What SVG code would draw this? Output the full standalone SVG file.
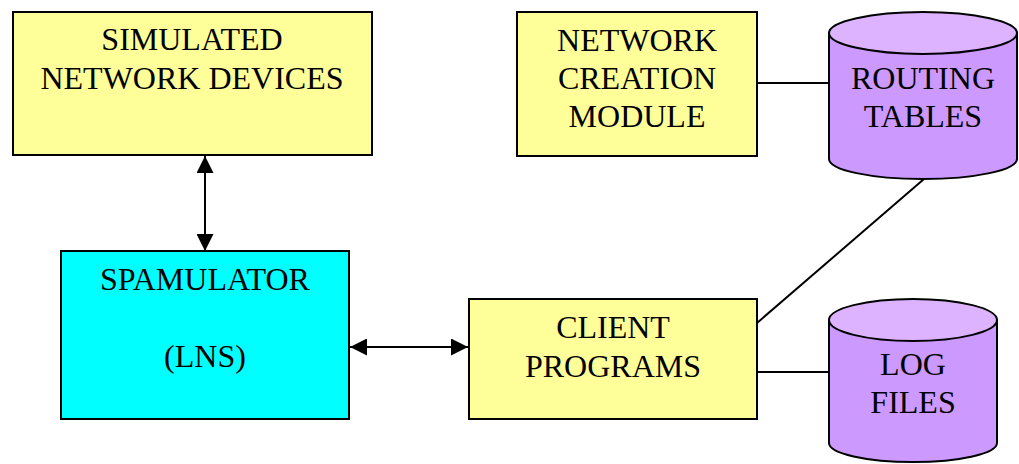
<svg xmlns="http://www.w3.org/2000/svg" width="1019" height="464" viewBox="0 0 1019 464">
<style>
.box{stroke:#000;stroke-width:2}
.y{fill:#FFFF99}
.c{fill:#00FFFF}
.p{fill:#CC99FF;stroke:#000;stroke-width:2}
.pt{fill:#DDB3FF;stroke:#000;stroke-width:2}
text{font-family:"Liberation Serif","Times New Roman",serif;font-size:32px;fill:#000;text-anchor:middle}
.ln{stroke:#000;stroke-width:2;fill:none}
</style>
<defs>
<marker id="ah" viewBox="0 0 16 16" refX="16" refY="8" markerWidth="17" markerHeight="17" markerUnits="userSpaceOnUse" orient="auto-start-reverse">
<path d="M0,0 L16,8 L0,16 Z" fill="#000"/>
</marker>
</defs>
<g id="connectors">
<line class="ln" x1="205" y1="156" x2="205" y2="251" marker-start="url(#ah)" marker-end="url(#ah)"/>
<line class="ln" x1="350" y1="347" x2="468" y2="347" marker-start="url(#ah)" marker-end="url(#ah)"/>
<line class="ln" x1="757" y1="83" x2="829" y2="83"/>
<line class="ln" x1="924" y1="179" x2="757" y2="323"/>
<line class="ln" x1="757" y1="372" x2="829" y2="372"/>
</g>
<g id="simulated-network-devices">
<rect class="box y" x="13" y="12" width="359" height="143"/>
<text x="192" y="50">SIMULATED</text>
<text x="192" y="89">NETWORK DEVICES</text>
</g>
<g id="network-creation-module">
<rect class="box y" x="517" y="12" width="240" height="144"/>
<text x="637" y="51">NETWORK</text>
<text x="637" y="89">CREATION</text>
<text x="637" y="127">MODULE</text>
</g>
<g id="routing-tables">
<path class="p" d="M829,33 L829,159 A94,20 0 0 0 1017,159 L1017,33 Z"/>
<ellipse class="pt" cx="923" cy="33" rx="94" ry="21"/>
<text x="923" y="89">ROUTING</text>
<text x="923" y="127">TABLES</text>
</g>
<g id="spamulator">
<rect class="box c" x="61" y="251" width="288" height="168"/>
<text x="205" y="290">SPAMULATOR</text>
<text x="205" y="367">(LNS)</text>
</g>
<g id="client-programs">
<rect class="box y" x="469" y="299" width="288" height="120"/>
<text x="613" y="338">CLIENT</text>
<text x="613" y="377">PROGRAMS</text>
</g>
<g id="log-files">
<path class="p" d="M829,320 L829,443 A84,19 0 0 0 997,443 L997,320 Z"/>
<ellipse class="pt" cx="913" cy="320" rx="84" ry="21"/>
<text x="913" y="375">LOG</text>
<text x="913" y="413">FILES</text>
</g>
</svg>
